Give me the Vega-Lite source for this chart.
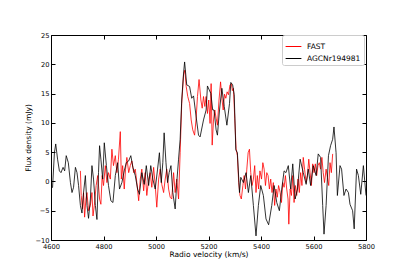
{
  "$schema": "https://vega.github.io/schema/vega-lite/v6.json",
  "width": 315,
  "height": 205,
  "autosize": {"type": "none"},
  "padding": {"left": 51, "top": 35, "right": 41, "bottom": 31},
  "background": "white",
  "config": {
    "view": {"stroke": null},
    "font": "DejaVu Sans",
    "axis": {
      "grid": false,
      "domainColor": "black",
      "domainWidth": 1,
      "tickColor": "black",
      "tickSize": -4,
      "tickWidth": 1,
      "labelColor": "black",
      "labelFont": "DejaVu Sans",
      "labelFontSize": 6.7,
      "titleFont": "DejaVu Sans",
      "titleFontSize": 7.5,
      "titleFontWeight": "normal",
      "titleColor": "black"
    },
    "legend": {
      "labelFont": "DejaVu Sans",
      "labelFontSize": 7.5,
      "labelColor": "black"
    }
  },
  "datasets": {
    "fast": [
      {"v": 4712, "f": 1.8, "s": "FAST"}, {"v": 4715, "f": -2.4, "s": "FAST"}, {"v": 4720, "f": -4.7, "s": "FAST"},
      {"v": 4724, "f": -1.9, "s": "FAST"}, {"v": 4728, "f": -6.1, "s": "FAST"}, {"v": 4733, "f": -3.0, "s": "FAST"},
      {"v": 4737, "f": -1.9, "s": "FAST"}, {"v": 4743, "f": -5.0, "s": "FAST"}, {"v": 4750, "f": -4.1, "s": "FAST"},
      {"v": 4756, "f": -1.9, "s": "FAST"}, {"v": 4760, "f": -5.9, "s": "FAST"}, {"v": 4765, "f": -4.1, "s": "FAST"},
      {"v": 4772, "f": -0.7, "s": "FAST"}, {"v": 4778, "f": 1.0, "s": "FAST"}, {"v": 4785, "f": -3.0, "s": "FAST"},
      {"v": 4790, "f": -3.9, "s": "FAST"}, {"v": 4795, "f": 1.0, "s": "FAST"}, {"v": 4800, "f": -0.7, "s": "FAST"},
      {"v": 4807, "f": 2.7, "s": "FAST"}, {"v": 4813, "f": -0.2, "s": "FAST"}, {"v": 4819, "f": 1.5, "s": "FAST"},
      {"v": 4826, "f": 0.4, "s": "FAST"}, {"v": 4832, "f": 5.5, "s": "FAST"}, {"v": 4838, "f": 2.7, "s": "FAST"},
      {"v": 4845, "f": 4.4, "s": "FAST"}, {"v": 4851, "f": 1.5, "s": "FAST"}, {"v": 4857, "f": 3.8, "s": "FAST"},
      {"v": 4864, "f": 8.5, "s": "FAST"}, {"v": 4868, "f": 0.4, "s": "FAST"}, {"v": 4873, "f": 2.7, "s": "FAST"},
      {"v": 4879, "f": -1.3, "s": "FAST"}, {"v": 4884, "f": 2.1, "s": "FAST"}, {"v": 4889, "f": 4.1, "s": "FAST"},
      {"v": 4896, "f": 1.5, "s": "FAST"}, {"v": 4902, "f": 2.7, "s": "FAST"}, {"v": 4908, "f": 3.5, "s": "FAST"},
      {"v": 4915, "f": 1.5, "s": "FAST"}, {"v": 4921, "f": 2.1, "s": "FAST"}, {"v": 4927, "f": -0.2, "s": "FAST"},
      {"v": 4934, "f": -3.3, "s": "FAST"}, {"v": 4940, "f": 0.4, "s": "FAST"}, {"v": 4946, "f": 2.1, "s": "FAST"},
      {"v": 4953, "f": -1.6, "s": "FAST"}, {"v": 4959, "f": 1.5, "s": "FAST"}, {"v": 4965, "f": -2.4, "s": "FAST"},
      {"v": 4972, "f": 0.4, "s": "FAST"}, {"v": 4978, "f": 1.5, "s": "FAST"}, {"v": 4984, "f": -1.0, "s": "FAST"},
      {"v": 4991, "f": 2.4, "s": "FAST"}, {"v": 4997, "f": -0.7, "s": "FAST"}, {"v": 5003, "f": -4.4, "s": "FAST"},
      {"v": 5010, "f": 0.4, "s": "FAST"}, {"v": 5016, "f": 2.1, "s": "FAST"}, {"v": 5022, "f": -0.5, "s": "FAST"},
      {"v": 5029, "f": -1.9, "s": "FAST"}, {"v": 5035, "f": 0.4, "s": "FAST"}, {"v": 5041, "f": 2.1, "s": "FAST"},
      {"v": 5048, "f": -1.3, "s": "FAST"}, {"v": 5054, "f": -2.7, "s": "FAST"}, {"v": 5060, "f": -3.0, "s": "FAST"},
      {"v": 5067, "f": 1.5, "s": "FAST"}, {"v": 5073, "f": -1.9, "s": "FAST"}, {"v": 5079, "f": 0.4, "s": "FAST"},
      {"v": 5086, "f": -3.0, "s": "FAST"}, {"v": 5092, "f": 4.9, "s": "FAST"}, {"v": 5098, "f": 13.3, "s": "FAST"},
      {"v": 5105, "f": 18.2, "s": "FAST"}, {"v": 5110, "f": 19.0, "s": "FAST"}, {"v": 5115, "f": 16.2, "s": "FAST"},
      {"v": 5121, "f": 14.5, "s": "FAST"}, {"v": 5128, "f": 13.3, "s": "FAST"}, {"v": 5134, "f": 10.5, "s": "FAST"},
      {"v": 5140, "f": 8.8, "s": "FAST"}, {"v": 5147, "f": 7.9, "s": "FAST"}, {"v": 5153, "f": 10.8, "s": "FAST"},
      {"v": 5158, "f": 14.5, "s": "FAST"}, {"v": 5164, "f": 17.4, "s": "FAST"}, {"v": 5171, "f": 13.9, "s": "FAST"},
      {"v": 5176, "f": 12.5, "s": "FAST"}, {"v": 5181, "f": 14.5, "s": "FAST"}, {"v": 5186, "f": 12.8, "s": "FAST"},
      {"v": 5191, "f": 14.5, "s": "FAST"}, {"v": 5196, "f": 11.6, "s": "FAST"}, {"v": 5201, "f": 13.9, "s": "FAST"},
      {"v": 5206, "f": 9.9, "s": "FAST"}, {"v": 5210, "f": 16.7, "s": "FAST"}, {"v": 5214, "f": 6.2, "s": "FAST"},
      {"v": 5219, "f": 10.5, "s": "FAST"}, {"v": 5224, "f": 12.2, "s": "FAST"}, {"v": 5229, "f": 10.8, "s": "FAST"},
      {"v": 5234, "f": 9.6, "s": "FAST"}, {"v": 5240, "f": 13.9, "s": "FAST"}, {"v": 5246, "f": 17.0, "s": "FAST"},
      {"v": 5251, "f": 14.2, "s": "FAST"}, {"v": 5256, "f": 12.2, "s": "FAST"}, {"v": 5261, "f": 14.9, "s": "FAST"},
      {"v": 5266, "f": 14.2, "s": "FAST"}, {"v": 5271, "f": 15.3, "s": "FAST"}, {"v": 5276, "f": 14.8, "s": "FAST"},
      {"v": 5282, "f": 16.5, "s": "FAST"}, {"v": 5287, "f": 16.7, "s": "FAST"}, {"v": 5291, "f": 15.5, "s": "FAST"},
      {"v": 5295, "f": 15.9, "s": "FAST"}, {"v": 5300, "f": 10.8, "s": "FAST"}, {"v": 5305, "f": 5.6, "s": "FAST"},
      {"v": 5310, "f": 4.4, "s": "FAST"}, {"v": 5315, "f": -0.2, "s": "FAST"}, {"v": 5320, "f": -2.4, "s": "FAST"},
      {"v": 5325, "f": -3.0, "s": "FAST"}, {"v": 5331, "f": -0.7, "s": "FAST"}, {"v": 5336, "f": 1.0, "s": "FAST"},
      {"v": 5341, "f": -1.3, "s": "FAST"}, {"v": 5346, "f": 2.1, "s": "FAST"}, {"v": 5351, "f": 4.9, "s": "FAST"},
      {"v": 5356, "f": 5.5, "s": "FAST"}, {"v": 5361, "f": 1.5, "s": "FAST"}, {"v": 5366, "f": -0.7, "s": "FAST"},
      {"v": 5371, "f": 0.4, "s": "FAST"}, {"v": 5376, "f": 2.7, "s": "FAST"}, {"v": 5381, "f": -1.9, "s": "FAST"},
      {"v": 5386, "f": 1.0, "s": "FAST"}, {"v": 5391, "f": -1.3, "s": "FAST"}, {"v": 5396, "f": 1.8, "s": "FAST"},
      {"v": 5402, "f": 0.4, "s": "FAST"}, {"v": 5407, "f": 3.2, "s": "FAST"}, {"v": 5412, "f": 2.1, "s": "FAST"},
      {"v": 5417, "f": -0.7, "s": "FAST"}, {"v": 5422, "f": 1.5, "s": "FAST"}, {"v": 5427, "f": 1.0, "s": "FAST"},
      {"v": 5432, "f": -1.3, "s": "FAST"}, {"v": 5437, "f": 0.4, "s": "FAST"}, {"v": 5442, "f": -1.9, "s": "FAST"},
      {"v": 5447, "f": -0.2, "s": "FAST"}, {"v": 5452, "f": -4.1, "s": "FAST"}, {"v": 5457, "f": -1.3, "s": "FAST"},
      {"v": 5462, "f": -2.7, "s": "FAST"}, {"v": 5467, "f": -0.7, "s": "FAST"}, {"v": 5473, "f": -1.9, "s": "FAST"},
      {"v": 5478, "f": -3.6, "s": "FAST"}, {"v": 5483, "f": -0.2, "s": "FAST"}, {"v": 5488, "f": -1.0, "s": "FAST"},
      {"v": 5493, "f": 1.0, "s": "FAST"}, {"v": 5498, "f": -1.3, "s": "FAST"}, {"v": 5503, "f": -3.0, "s": "FAST"},
      {"v": 5506, "f": -7.3, "s": "FAST"}, {"v": 5511, "f": -1.3, "s": "FAST"}, {"v": 5516, "f": -2.4, "s": "FAST"},
      {"v": 5521, "f": 1.0, "s": "FAST"}, {"v": 5526, "f": -3.6, "s": "FAST"}, {"v": 5531, "f": -0.7, "s": "FAST"},
      {"v": 5536, "f": -2.4, "s": "FAST"}, {"v": 5541, "f": 0.4, "s": "FAST"}, {"v": 5546, "f": -1.9, "s": "FAST"},
      {"v": 5551, "f": 1.5, "s": "FAST"}, {"v": 5556, "f": -0.7, "s": "FAST"}, {"v": 5561, "f": 4.1, "s": "FAST"},
      {"v": 5566, "f": 2.1, "s": "FAST"}, {"v": 5572, "f": -0.2, "s": "FAST"}, {"v": 5577, "f": 1.0, "s": "FAST"},
      {"v": 5582, "f": 3.8, "s": "FAST"}, {"v": 5587, "f": 1.5, "s": "FAST"}, {"v": 5592, "f": -0.7, "s": "FAST"},
      {"v": 5597, "f": 3.0, "s": "FAST"}, {"v": 5602, "f": 1.5, "s": "FAST"}, {"v": 5607, "f": 3.0, "s": "FAST"},
      {"v": 5612, "f": 1.0, "s": "FAST"}, {"v": 5617, "f": 2.7, "s": "FAST"}, {"v": 5622, "f": 3.2, "s": "FAST"},
      {"v": 5627, "f": 2.1, "s": "FAST"}, {"v": 5632, "f": 4.1, "s": "FAST"}, {"v": 5637, "f": 1.5, "s": "FAST"},
      {"v": 5642, "f": -0.2, "s": "FAST"}, {"v": 5648, "f": 2.1, "s": "FAST"}, {"v": 5653, "f": 0.7, "s": "FAST"},
      {"v": 5658, "f": -0.7, "s": "FAST"}, {"v": 5663, "f": 3.2, "s": "FAST"}, {"v": 5668, "f": 1.5, "s": "FAST"},
      {"v": 5673, "f": 4.7, "s": "FAST"}
    ],
    "agc": [
      {"v": 4600, "f": -1.3, "s": "AGCNr194981"}, {"v": 4606, "f": -1.0, "s": "AGCNr194981"}, {"v": 4613, "f": 4.9, "s": "AGCNr194981"},
      {"v": 4618, "f": 6.4, "s": "AGCNr194981"}, {"v": 4625, "f": 3.8, "s": "AGCNr194981"}, {"v": 4632, "f": 1.8, "s": "AGCNr194981"},
      {"v": 4638, "f": 1.5, "s": "AGCNr194981"}, {"v": 4646, "f": 2.4, "s": "AGCNr194981"}, {"v": 4652, "f": 1.8, "s": "AGCNr194981"},
      {"v": 4658, "f": 4.4, "s": "AGCNr194981"}, {"v": 4666, "f": 3.2, "s": "AGCNr194981"}, {"v": 4674, "f": -0.2, "s": "AGCNr194981"},
      {"v": 4680, "f": -1.9, "s": "AGCNr194981"}, {"v": 4686, "f": -1.0, "s": "AGCNr194981"}, {"v": 4693, "f": 2.4, "s": "AGCNr194981"},
      {"v": 4699, "f": 1.5, "s": "AGCNr194981"}, {"v": 4705, "f": -0.7, "s": "AGCNr194981"}, {"v": 4712, "f": -4.1, "s": "AGCNr194981"},
      {"v": 4718, "f": -5.4, "s": "AGCNr194981"}, {"v": 4724, "f": -1.9, "s": "AGCNr194981"}, {"v": 4731, "f": 1.0, "s": "AGCNr194981"},
      {"v": 4737, "f": -4.1, "s": "AGCNr194981"}, {"v": 4743, "f": -6.3, "s": "AGCNr194981"}, {"v": 4750, "f": -3.0, "s": "AGCNr194981"},
      {"v": 4756, "f": 2.7, "s": "AGCNr194981"}, {"v": 4762, "f": 0.4, "s": "AGCNr194981"}, {"v": 4769, "f": -4.1, "s": "AGCNr194981"},
      {"v": 4775, "f": -6.5, "s": "AGCNr194981"}, {"v": 4781, "f": 1.5, "s": "AGCNr194981"}, {"v": 4785, "f": 6.1, "s": "AGCNr194981"},
      {"v": 4790, "f": 3.8, "s": "AGCNr194981"}, {"v": 4797, "f": 0.4, "s": "AGCNr194981"}, {"v": 4803, "f": 6.6, "s": "AGCNr194981"},
      {"v": 4811, "f": 2.7, "s": "AGCNr194981"}, {"v": 4819, "f": -0.7, "s": "AGCNr194981"}, {"v": 4828, "f": -3.3, "s": "AGCNr194981"},
      {"v": 4836, "f": -3.6, "s": "AGCNr194981"}, {"v": 4845, "f": 1.0, "s": "AGCNr194981"}, {"v": 4854, "f": 3.2, "s": "AGCNr194981"},
      {"v": 4861, "f": -1.3, "s": "AGCNr194981"}, {"v": 4870, "f": -0.2, "s": "AGCNr194981"}, {"v": 4879, "f": 1.8, "s": "AGCNr194981"},
      {"v": 4887, "f": 3.2, "s": "AGCNr194981"}, {"v": 4896, "f": 3.5, "s": "AGCNr194981"}, {"v": 4904, "f": 4.4, "s": "AGCNr194981"},
      {"v": 4912, "f": 2.4, "s": "AGCNr194981"}, {"v": 4921, "f": 1.0, "s": "AGCNr194981"}, {"v": 4930, "f": -1.3, "s": "AGCNr194981"},
      {"v": 4937, "f": -2.2, "s": "AGCNr194981"}, {"v": 4946, "f": 1.5, "s": "AGCNr194981"}, {"v": 4955, "f": -0.5, "s": "AGCNr194981"},
      {"v": 4963, "f": 2.7, "s": "AGCNr194981"}, {"v": 4972, "f": -0.7, "s": "AGCNr194981"}, {"v": 4980, "f": 2.7, "s": "AGCNr194981"},
      {"v": 4988, "f": 0.4, "s": "AGCNr194981"}, {"v": 4997, "f": -1.3, "s": "AGCNr194981"}, {"v": 5006, "f": 2.1, "s": "AGCNr194981"},
      {"v": 5013, "f": 4.9, "s": "AGCNr194981"}, {"v": 5020, "f": -0.2, "s": "AGCNr194981"}, {"v": 5026, "f": 3.2, "s": "AGCNr194981"},
      {"v": 5031, "f": 8.3, "s": "AGCNr194981"}, {"v": 5038, "f": 3.2, "s": "AGCNr194981"}, {"v": 5044, "f": -0.2, "s": "AGCNr194981"},
      {"v": 5050, "f": 1.5, "s": "AGCNr194981"}, {"v": 5057, "f": 2.7, "s": "AGCNr194981"}, {"v": 5064, "f": -1.9, "s": "AGCNr194981"},
      {"v": 5073, "f": -4.7, "s": "AGCNr194981"}, {"v": 5079, "f": -0.2, "s": "AGCNr194981"}, {"v": 5086, "f": 3.8, "s": "AGCNr194981"},
      {"v": 5092, "f": 7.2, "s": "AGCNr194981"}, {"v": 5098, "f": 13.9, "s": "AGCNr194981"}, {"v": 5105, "f": 18.5, "s": "AGCNr194981"},
      {"v": 5109, "f": 20.4, "s": "AGCNr194981"}, {"v": 5117, "f": 16.5, "s": "AGCNr194981"}, {"v": 5128, "f": 16.2, "s": "AGCNr194981"},
      {"v": 5136, "f": 14.2, "s": "AGCNr194981"}, {"v": 5143, "f": 14.6, "s": "AGCNr194981"}, {"v": 5153, "f": 11.0, "s": "AGCNr194981"},
      {"v": 5162, "f": 7.9, "s": "AGCNr194981"}, {"v": 5168, "f": 7.6, "s": "AGCNr194981"}, {"v": 5181, "f": 10.5, "s": "AGCNr194981"},
      {"v": 5191, "f": 12.2, "s": "AGCNr194981"}, {"v": 5196, "f": 16.3, "s": "AGCNr194981"}, {"v": 5203, "f": 15.6, "s": "AGCNr194981"},
      {"v": 5209, "f": 15.0, "s": "AGCNr194981"}, {"v": 5216, "f": 12.2, "s": "AGCNr194981"}, {"v": 5221, "f": 12.2, "s": "AGCNr194981"},
      {"v": 5229, "f": 8.8, "s": "AGCNr194981"}, {"v": 5234, "f": 7.9, "s": "AGCNr194981"}, {"v": 5242, "f": 12.2, "s": "AGCNr194981"},
      {"v": 5251, "f": 15.9, "s": "AGCNr194981"}, {"v": 5260, "f": 12.8, "s": "AGCNr194981"}, {"v": 5270, "f": 9.6, "s": "AGCNr194981"},
      {"v": 5280, "f": 13.3, "s": "AGCNr194981"}, {"v": 5285, "f": 16.9, "s": "AGCNr194981"}, {"v": 5292, "f": 16.5, "s": "AGCNr194981"},
      {"v": 5298, "f": 14.8, "s": "AGCNr194981"}, {"v": 5304, "f": 5.4, "s": "AGCNr194981"}, {"v": 5310, "f": 4.9, "s": "AGCNr194981"},
      {"v": 5318, "f": -1.9, "s": "AGCNr194981"}, {"v": 5323, "f": 0.7, "s": "AGCNr194981"}, {"v": 5333, "f": -0.2, "s": "AGCNr194981"},
      {"v": 5343, "f": 1.5, "s": "AGCNr194981"}, {"v": 5352, "f": -1.9, "s": "AGCNr194981"}, {"v": 5361, "f": 1.0, "s": "AGCNr194981"},
      {"v": 5371, "f": -4.1, "s": "AGCNr194981"}, {"v": 5381, "f": -9.3, "s": "AGCNr194981"}, {"v": 5390, "f": -4.1, "s": "AGCNr194981"},
      {"v": 5399, "f": -0.7, "s": "AGCNr194981"}, {"v": 5409, "f": -2.4, "s": "AGCNr194981"}, {"v": 5419, "f": -6.4, "s": "AGCNr194981"},
      {"v": 5429, "f": -7.4, "s": "AGCNr194981"}, {"v": 5441, "f": -4.1, "s": "AGCNr194981"}, {"v": 5450, "f": -0.7, "s": "AGCNr194981"},
      {"v": 5460, "f": -3.6, "s": "AGCNr194981"}, {"v": 5470, "f": -5.0, "s": "AGCNr194981"}, {"v": 5479, "f": -1.3, "s": "AGCNr194981"},
      {"v": 5488, "f": 1.8, "s": "AGCNr194981"}, {"v": 5495, "f": 1.5, "s": "AGCNr194981"}, {"v": 5504, "f": 2.7, "s": "AGCNr194981"},
      {"v": 5513, "f": -1.3, "s": "AGCNr194981"}, {"v": 5521, "f": 3.0, "s": "AGCNr194981"}, {"v": 5530, "f": -3.0, "s": "AGCNr194981"},
      {"v": 5539, "f": -1.3, "s": "AGCNr194981"}, {"v": 5549, "f": 3.8, "s": "AGCNr194981"}, {"v": 5561, "f": 1.5, "s": "AGCNr194981"},
      {"v": 5572, "f": -0.5, "s": "AGCNr194981"}, {"v": 5580, "f": 2.1, "s": "AGCNr194981"}, {"v": 5589, "f": -0.7, "s": "AGCNr194981"},
      {"v": 5599, "f": 2.7, "s": "AGCNr194981"}, {"v": 5610, "f": 1.0, "s": "AGCNr194981"}, {"v": 5618, "f": 4.7, "s": "AGCNr194981"},
      {"v": 5627, "f": 4.1, "s": "AGCNr194981"}, {"v": 5635, "f": -4.1, "s": "AGCNr194981"}, {"v": 5640, "f": -9.0, "s": "AGCNr194981"},
      {"v": 5648, "f": -4.1, "s": "AGCNr194981"}, {"v": 5657, "f": 4.4, "s": "AGCNr194981"}, {"v": 5665, "f": 6.1, "s": "AGCNr194981"},
      {"v": 5673, "f": 7.2, "s": "AGCNr194981"}, {"v": 5678, "f": 9.3, "s": "AGCNr194981"}, {"v": 5686, "f": 4.9, "s": "AGCNr194981"},
      {"v": 5691, "f": -2.4, "s": "AGCNr194981"}, {"v": 5701, "f": 2.7, "s": "AGCNr194981"}, {"v": 5707, "f": 2.1, "s": "AGCNr194981"},
      {"v": 5716, "f": -2.4, "s": "AGCNr194981"}, {"v": 5724, "f": -1.3, "s": "AGCNr194981"}, {"v": 5733, "f": -1.9, "s": "AGCNr194981"},
      {"v": 5739, "f": -3.9, "s": "AGCNr194981"}, {"v": 5749, "f": -5.0, "s": "AGCNr194981"}, {"v": 5755, "f": -8.1, "s": "AGCNr194981"},
      {"v": 5764, "f": 2.1, "s": "AGCNr194981"}, {"v": 5771, "f": 1.0, "s": "AGCNr194981"}, {"v": 5780, "f": -2.2, "s": "AGCNr194981"},
      {"v": 5790, "f": 2.7, "s": "AGCNr194981"}, {"v": 5800, "f": -2.4, "s": "AGCNr194981"}
    ]
  },
  "layer": [
    {
      "data": {"name": "fast"},
      "mark": {"type": "line", "strokeWidth": 0.8, "clip": true},
      "encoding": {
        "x": {"field": "v", "type": "quantitative",
              "scale": {"domain": [4600, 5800], "nice": false, "zero": false},
              "axis": {"orient": "top", "labels": false, "title": null, "values": [4600, 4800, 5000, 5200, 5400, 5600, 5800]}},
        "y": {"field": "f", "type": "quantitative",
              "scale": {"domain": [-10, 25], "nice": false, "zero": false},
              "axis": {"orient": "right", "labels": false, "title": null, "values": [-10, -5, 0, 5, 10, 15, 20, 25]}},
        "color": {"field": "s", "type": "nominal",
                  "scale": {"domain": ["FAST", "AGCNr194981"], "range": ["#ff0000", "#000000"]},
                  "legend": {"title": null, "orient": "none", "legendX": 231, "legendY": 0,
                             "symbolType": "stroke", "symbolSize": 250, "symbolStrokeWidth": 1,
                             "rowPadding": -5, "padding": 3, "labelOffset": 5,
                             "strokeColor": "#cccccc", "fillColor": "white", "cornerRadius": 2}}
      }
    },
    {
      "data": {"name": "agc"},
      "mark": {"type": "line", "strokeWidth": 0.8, "clip": true},
      "encoding": {
        "x": {"field": "v", "type": "quantitative",
              "axis": {"orient": "bottom", "title": "Radio velocity (km/s)", "titlePadding": 1, "labelPadding": 7,
                       "format": "d", "values": [4600, 4800, 5000, 5200, 5400, 5600, 5800], "labelFlush": false}},
        "y": {"field": "f", "type": "quantitative",
              "axis": {"orient": "left", "title": "Flux density (mJy)", "titlePadding": 2, "labelPadding": 6,
                       "format": "d", "values": [-10, -5, 0, 5, 10, 15, 20, 25], "labelFlush": false}},
        "color": {"field": "s", "type": "nominal"}
      }
    }
  ],
  "resolve": {"axis": {"x": "independent", "y": "independent"}}
}
